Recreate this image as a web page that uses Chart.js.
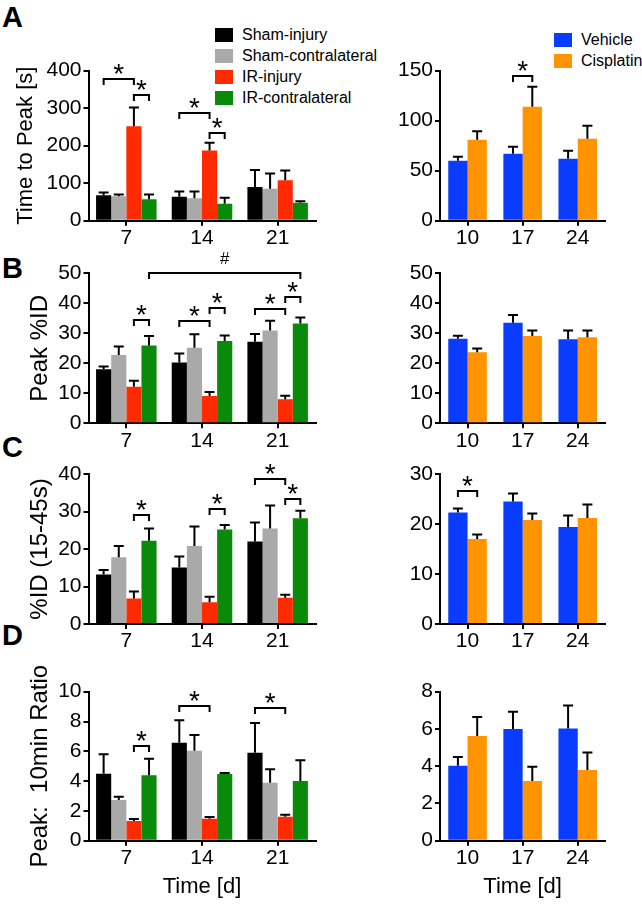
<!DOCTYPE html>
<html>
<head>
<meta charset="utf-8">
<script src="https://cdn.jsdelivr.net/npm/chart.js@4.4.0/dist/chart.umd.min.js"></script>
<style>
  body { margin: 0; background: #fff; font-family: "Liberation Sans", Arial, sans-serif; }
  #fig { position: relative; width: 642px; height: 904px; overflow: hidden; }
  canvas { position: absolute; }
  .letter { position: absolute; left: 2px; font-weight: bold; font-size: 29px; line-height: 29px; }
  .legend { position: absolute; font-size: 16px; }
  .legend .row { display: flex; align-items: center; height: 21px; white-space: nowrap; }
  .legend .sq { width: 18px; height: 14px; margin-right: 9px; }
</style>
</head>
<body>
<div id="fig">
  <div class="letter" style="top:3px">A</div>
  <div class="letter" style="top:254px">B</div>
  <div class="letter" style="top:433px">C</div>
  <div class="letter" style="top:621px">D</div>
  <div class="legend" id="legendLeft" style="left:215px; top:24px"></div>
  <div class="legend" id="legendRight" style="left:554px; top:29px"></div>
  <canvas id="aL" width="330" height="250" style="left:0; top:0"></canvas>
  <canvas id="aR" width="312" height="250" style="left:330px; top:0"></canvas>
  <canvas id="bL" width="330" height="200" style="left:0; top:250px"></canvas>
  <canvas id="bR" width="312" height="200" style="left:330px; top:250px"></canvas>
  <canvas id="cL" width="330" height="200" style="left:0; top:450px"></canvas>
  <canvas id="cR" width="312" height="200" style="left:330px; top:450px"></canvas>
  <canvas id="dL" width="330" height="254" style="left:0; top:650px"></canvas>
  <canvas id="dR" width="312" height="254" style="left:330px; top:650px"></canvas>
</div>
<script>
// kategorie (dni) i grupy
const daysLeft = ['7', '14', '21'];
const daysRight = ['10', '17', '24'];
const groupsLeft = ['Sham-injury', 'Sham-contralateral', 'IR-injury', 'IR-contralateral'];
const groupsRight = ['Vehicle', 'Cisplatin'];
const colorsLeft = ['#000000', '#a9a9a9', '#ff2a00', '#0a8a0a'];
const colorsRight = ['#0a3cff', '#ff9400'];

// A - Time to Peak [s]
const ttpLeft = [[68, 64, 90], [65, 60, 85], [252, 187, 108], [57, 45, 48]];
const ttpLeftErr = [[7, 14, 45], [5, 18, 41], [50, 21, 26], [13, 16, 4]];
const ttpRight = [[60, 67, 62], [81, 114, 82]];
const ttpRightErr = [[4, 7, 8], [8.5, 20, 13]];

// B - Peak %ID
const peakLeft = [[18, 20.3, 27.2], [22.8, 25.2, 30.9], [12.2, 9.1, 8], [25.9, 27.4, 33.3]];
const peakLeftErr = [[0.9, 3, 2.6], [2.8, 4.5, 3.3], [2, 1.3, 1.2], [3.2, 1.9, 2]];
const peakRight = [[28.2, 33.5, 28], [23.7, 29.1, 28.7]];
const peakRightErr = [[1, 2.6, 2.9], [1.2, 1.8, 2.2]];

// C - %ID (15-45s)
const idLeft = [[13.2, 15.1, 22], [17.8, 20.8, 25.5], [6.8, 5.8, 7], [22.2, 25.2, 28.2]];
const idLeftErr = [[1.2, 2.9, 5.1], [3, 5.2, 6.1], [1.9, 1.5, 0.8], [3.3, 1.2, 2]];
const idRight = [[22.3, 24.5, 19.4], [17, 20.8, 21.2]];
const idRightErr = [[0.8, 1.6, 2.3], [0.9, 1.3, 2.7]];

// D - Peak: 10min Ratio
const ratioLeft = [[4.5, 6.58, 5.9], [2.73, 6.04, 3.89], [1.32, 1.48, 1.61], [4.4, 4.47, 4.0]];
const ratioLeftErr = [[1.3, 1.5, 2], [0.22, 1.05, 0.9], [0.13, 0.11, 0.13], [1.1, 0.07, 1.4]];
const ratioRight = [[4.03, 6, 6.03], [5.62, 3.2, 3.79]];
const ratioRightErr = [[0.46, 0.93, 1.23], [1.02, 0.77, 0.95]];

// istotnosc: [kategoria1, seria1, kategoria2, seria2, wysokosc, znak]
const sigA = [[0, 0, 0, 2, 379, '*'], [0, 2, 0, 3, 335, '*'], [1, 0, 1, 2, 286, '*'], [1, 2, 1, 3, 235, '*']];
const sigAR = [[1, 0, 1, 1, 145, '*']];
const sigB = [[0, 2, 0, 3, 34.4, '*'], [1, 0, 1, 2, 34.2, '*'], [1, 2, 1, 3, 38.3, '*'],
              [2, 0, 2, 2, 38.1, '*'], [2, 2, 2, 3, 42, '*'], [0, 3, 2, 3, 50, '#']];
const sigC = [[0, 2, 0, 3, 29.1, '*'], [1, 2, 1, 3, 30.6, '*'], [2, 0, 2, 2, 38.7, '*'], [2, 2, 2, 3, 33.2, '*']];
const sigCR = [[0, 0, 0, 1, 26.7, '*']];
const sigD = [[0, 2, 0, 3, 6.36, '*'], [1, 0, 1, 2, 9.04, '*'], [2, 0, 2, 2, 8.88, '*']];

const FONT = '"Liberation Sans", Arial, sans-serif';
Chart.defaults.font.family = FONT;
Chart.defaults.color = '#000';

// legendy w HTML
function buildLegend(id, names, colors) {
    const el = document.getElementById(id);
    names.forEach((n, i) => {
        el.insertAdjacentHTML('beforeend',
            `<div class="row"><div class="sq" style="background:${colors[i]}"></div>${n}</div>`);
    });
}
buildLegend('legendLeft', groupsLeft, colorsLeft);
buildLegend('legendRight', groupsRight, colorsRight);

// slupki bledow (tylko w gore)
const errorBars = {
    id: 'errorBars',
    afterDatasetsDraw(chart) {
        const ctx = chart.ctx, y = chart.scales.y;
        ctx.save();
        ctx.strokeStyle = '#000';
        ctx.lineWidth = 2;
        chart.data.datasets.forEach((ds, i) => {
            chart.getDatasetMeta(i).data.forEach((bar, j) => {
                const top = y.getPixelForValue(ds.data[j] + ds.errors[j]);
                ctx.beginPath();
                ctx.moveTo(bar.x, bar.y);
                ctx.lineTo(bar.x, top);
                ctx.moveTo(bar.x - 5, top);
                ctx.lineTo(bar.x + 5, top);
                ctx.stroke();
            });
        });
        ctx.restore();
    }
};

// klamry z gwiazdkami
function brackets(list) {
    return {
        id: 'brackets',
        afterDraw(chart) {
            const ctx = chart.ctx, y = chart.scales.y;
            ctx.save();
            ctx.strokeStyle = '#000';
            ctx.fillStyle = '#000';
            ctx.lineWidth = 2;
            ctx.textAlign = 'center';
            ctx.textBaseline = 'alphabetic';
            list.forEach(([c1, d1, c2, d2, v, mark]) => {
                const x1 = chart.getDatasetMeta(d1).data[c1].x;
                const x2 = chart.getDatasetMeta(d2).data[c2].x;
                const yy = Math.round(y.getPixelForValue(v));
                ctx.beginPath();
                ctx.moveTo(x1, yy + 6);
                ctx.lineTo(x1, yy);
                ctx.lineTo(x2, yy);
                ctx.lineTo(x2, yy + 6);
                ctx.stroke();
                if (mark === '*') {
                    ctx.font = '28px ' + FONT;
                    ctx.fillText('*', (x1 + x2) / 2, yy + 4);
                } else {
                    ctx.font = '17px ' + FONT;
                    ctx.fillText(mark, (x1 + x2) / 2, yy - 9);
                }
            });
            ctx.restore();
        }
    };
}

function makeChart(id, o) {
    const datasets = o.values.map((vals, i) => ({
        label: o.names[i],
        data: vals,
        errors: o.errors[i],
        backgroundColor: o.colors[i],
        borderWidth: 0,
        categoryPercentage: o.catPct,
        barPercentage: 1.0
    }));
    const axisLine = { color: '#000', width: 2 };
    new Chart(document.getElementById(id), {
        type: 'bar',
        data: { labels: o.labels, datasets },
        options: {
            responsive: false,
            animation: false,
            layout: { padding: { top: o.padTop, right: o.padRight, left: 0, bottom: 0 } },
            plugins: { legend: { display: false }, tooltip: { enabled: false } },
            scales: {
                x: {
                    offset: true,
                    border: axisLine,
                    grid: { offset: false, drawOnChartArea: false, color: '#000', lineWidth: 2, tickLength: 5 },
                    ticks: { font: { size: 21 }, padding: 0, maxRotation: 0 },
                    title: o.xTitle ? { display: true, text: o.xTitle, font: { size: 22 }, padding: { top: 0, bottom: 4 } } : { display: false },
                    afterFit: s => { s.height = o.xHeight; s.paddingLeft = 0; s.paddingRight = 0; }
                },
                y: {
                    min: 0,
                    max: o.max,
                    border: axisLine,
                    grid: { drawOnChartArea: false, color: '#000', lineWidth: 2, tickLength: 5 },
                    ticks: { stepSize: o.step, font: { size: 21 }, padding: 2 },
                    title: o.yTitle ? { display: true, text: o.yTitle, font: { size: o.yTitleSize }, padding: { top: o.yTitlePad, bottom: 0 } } : { display: false },
                    afterFit: s => { s.width = o.yWidth; s.paddingTop = 0; s.paddingBottom = 0; }
                }
            }
        },
        plugins: [errorBars, brackets(o.sig)]
    });
}

const left = { labels: daysLeft, names: groupsLeft, colors: colorsLeft, catPct: 0.8, yWidth: 88.5, padRight: 14.5 };
const right = { labels: daysRight, names: groupsRight, colors: colorsRight, catPct: 0.7, yWidth: 110, padRight: 36.7 };

makeChart('aL', { ...left, values: ttpLeft, errors: ttpLeftErr, max: 400, step: 100, padTop: 70.7, xHeight: 29.3,
    yTitle: 'Time to Peak [s]', yTitleSize: 22, yTitlePad: 13, sig: sigA });
makeChart('aR', { ...right, values: ttpRight, errors: ttpRightErr, max: 150, step: 50, padTop: 70.7, xHeight: 29.3, sig: sigAR });

makeChart('bL', { ...left, values: peakLeft, errors: peakLeftErr, max: 50, step: 10, padTop: 23.3, xHeight: 26.7,
    yTitle: 'Peak %ID', yTitleSize: 24, yTitlePad: 25.6, sig: sigB });
makeChart('bR', { ...right, values: peakRight, errors: peakRightErr, max: 50, step: 10, padTop: 23.3, xHeight: 26.7, sig: [] });

makeChart('cL', { ...left, values: idLeft, errors: idLeftErr, max: 40, step: 10, padTop: 24, xHeight: 26,
    yTitle: '%ID (15-45s)', yTitleSize: 24, yTitlePad: 25.6, sig: sigC });
makeChart('cR', { ...right, values: idRight, errors: idRightErr, max: 30, step: 10, padTop: 24, xHeight: 26, sig: sigCR });

makeChart('dL', { ...left, values: ratioLeft, errors: ratioLeftErr, max: 10, step: 2, padTop: 41.7, xHeight: 63.3,
    yTitle: 'Peak:  10min Ratio', yTitleSize: 24, yTitlePad: 25.6, xTitle: 'Time [d]', sig: sigD });
makeChart('dR', { ...right, values: ratioRight, errors: ratioRightErr, max: 8, step: 2, padTop: 41.7, xHeight: 63.3,
    xTitle: 'Time [d]', sig: [] });
</script>
</body>
</html>
